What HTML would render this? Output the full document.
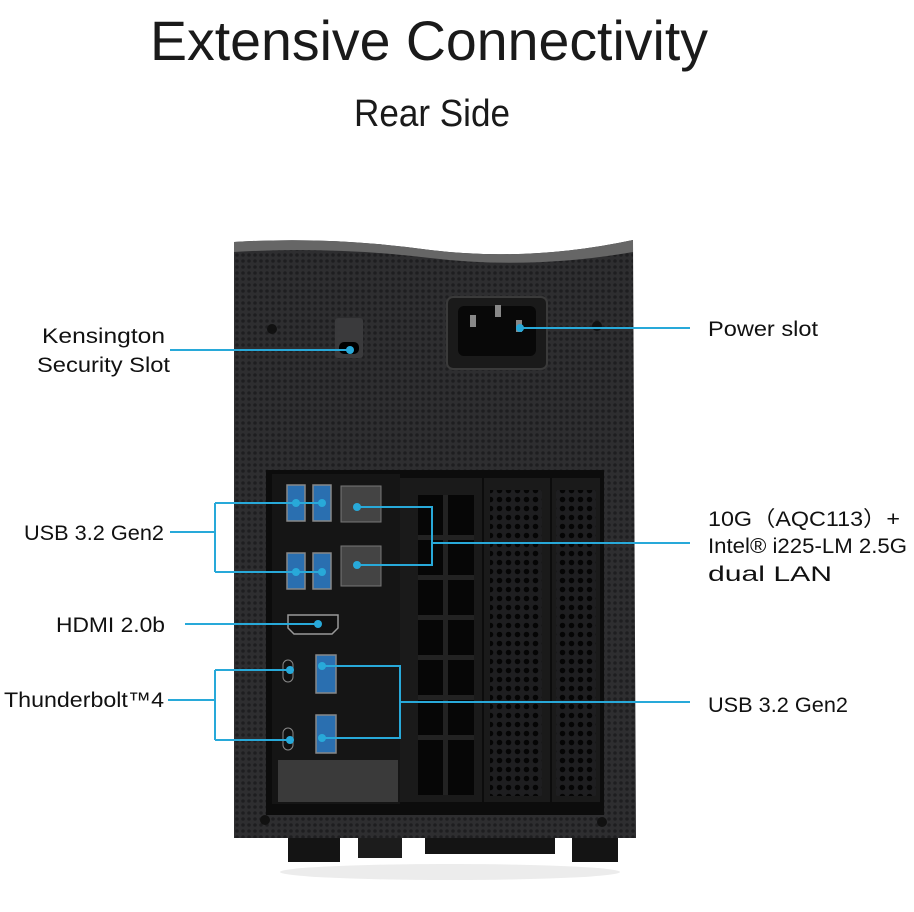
<!DOCTYPE html>
<html><head><meta charset="utf-8"><style>
html,body{margin:0;padding:0;background:#fff;}
svg{display:block;}
text{font-family:"Liberation Sans",sans-serif;}
</style></head><body>
<svg width="914" height="912" viewBox="0 0 914 912" xmlns="http://www.w3.org/2000/svg">
<defs>
<pattern id="hex" width="6" height="6" patternUnits="userSpaceOnUse">
<rect width="6" height="6" fill="#2e2e30"/>
<circle cx="3" cy="3" r="1.8" fill="#1e1e20"/>
</pattern>
<pattern id="holes" width="9" height="9" patternUnits="userSpaceOnUse">
<rect width="9" height="9" fill="#1e1e20"/>
<circle cx="4.5" cy="4.5" r="2.8" fill="#050505"/>
</pattern>
</defs>
<text x="150" y="60" font-size="56" textLength="558" lengthAdjust="spacingAndGlyphs" fill="#1a1a1a">Extensive Connectivity</text>
<text x="354" y="126" font-size="38" textLength="156" lengthAdjust="spacingAndGlyphs" fill="#1a1a1a">Rear Side</text>

<!-- feet -->
<rect x="288" y="836" width="52" height="26" fill="#141414"/>
<rect x="358" y="836" width="44" height="22" fill="#1c1c1c"/>
<rect x="425" y="836" width="130" height="18" fill="#141414"/>
<rect x="572" y="836" width="46" height="26" fill="#141414"/>
<ellipse cx="450" cy="872" rx="170" ry="8" fill="#ececec"/>
<!-- body -->
<path d="M234 242 Q330 236 430 250 Q530 262 633 240 L636 838 L234 838 Z" fill="url(#hex)"/>
<path d="M234 242 Q330 236 430 250 Q530 262 633 240 L633 252 Q530 270 430 258 Q330 246 234 252Z" fill="#666"/>
<!-- screws -->
<circle cx="272" cy="329" r="5" fill="#111"/><circle cx="597" cy="326" r="5" fill="#111"/>
<circle cx="265" cy="820" r="5" fill="#111"/><circle cx="602" cy="822" r="5" fill="#111"/>
<!-- kensington -->
<rect x="335" y="318" width="28" height="40" rx="3" fill="#3a3a3c"/>
<rect x="339" y="342" width="20" height="12" rx="5" fill="#000"/>
<!-- power -->
<rect x="447" y="297" width="100" height="72" rx="6" fill="#1a1a1a" stroke="#3a3a3a" stroke-width="2"/>
<rect x="458" y="306" width="78" height="50" rx="6" fill="#080808"/>
<rect x="470" y="315" width="6" height="12" fill="#888"/><rect x="495" y="305" width="6" height="12" fill="#888"/><rect x="516" y="320" width="6" height="12" fill="#888"/>
<!-- IO cutout -->
<rect x="266" y="470" width="338" height="345" fill="#0c0c0c"/>
<rect x="272" y="474" width="128" height="330" fill="#151515"/>
<rect x="278" y="760" width="120" height="42" fill="#3a3a3a"/>
<!-- pcie -->
<rect x="400" y="478" width="82" height="324" fill="#1a1a1a"/>
<rect x="418" y="495" width="56" height="300" fill="#060606"/>
<g fill="#222">
<rect x="443" y="495" width="5" height="300"/>
<rect x="418" y="535" width="56" height="5"/><rect x="418" y="575" width="56" height="5"/><rect x="418" y="615" width="56" height="5"/><rect x="418" y="655" width="56" height="5"/><rect x="418" y="695" width="56" height="5"/><rect x="418" y="735" width="56" height="5"/>
</g>
<rect x="484" y="478" width="66" height="324" fill="#1a1a1a"/>
<rect x="490" y="490" width="52" height="306" fill="url(#holes)"/>
<rect x="552" y="478" width="48" height="324" fill="#1a1a1a"/>
<rect x="556" y="490" width="40" height="306" fill="url(#holes)"/>
<!-- usb ports left -->
<g fill="#2a6fb0" stroke="#888" stroke-width="1.5">
<rect x="287" y="485" width="18" height="36"/><rect x="313" y="485" width="18" height="36"/>
<rect x="287" y="553" width="18" height="36"/><rect x="313" y="553" width="18" height="36"/>
<rect x="316" y="655" width="20" height="38"/><rect x="316" y="715" width="20" height="38"/>
</g>
<!-- LAN -->
<rect x="341" y="486" width="40" height="36" fill="#444" stroke="#777"/>
<rect x="341" y="546" width="40" height="40" fill="#444" stroke="#777"/>
<!-- HDMI -->
<path d="M288 615 H338 V628 L332 634 H294 L288 628Z" fill="#111" stroke="#999" stroke-width="1.5"/>
<!-- TB -->
<rect x="283" y="660" width="10" height="22" rx="5" fill="#111" stroke="#888"/>
<rect x="283" y="728" width="10" height="22" rx="5" fill="#111" stroke="#888"/>
<!-- connectors -->
<g stroke="#28a9d9" stroke-width="2" fill="none">
<path d="M170 350 H350"/>
<path d="M520 328 H690"/>
<path d="M170 532 H215 M215 503 V572 M215 503 H322 M215 572 H322"/>
<path d="M357 507 H432 V565 H357 M432 543 H690"/>
<path d="M185 624 H318"/>
<path d="M168 700 H215 M215 670 V740 M215 670 H290 M215 740 H290"/>
<path d="M322 666 H400 V738 H322 M400 702 H690"/>
</g>
<g fill="#28a9d9">
<circle cx="350" cy="350" r="4"/><circle cx="520" cy="328" r="4"/>
<circle cx="296" cy="503" r="4"/><circle cx="322" cy="503" r="4"/><circle cx="296" cy="572" r="4"/><circle cx="322" cy="572" r="4"/>
<circle cx="357" cy="507" r="4"/><circle cx="357" cy="565" r="4"/>
<circle cx="318" cy="624" r="4"/>
<circle cx="290" cy="670" r="4"/><circle cx="290" cy="740" r="4"/>
<circle cx="322" cy="666" r="4"/><circle cx="322" cy="738" r="4"/>
</g>
<!-- labels -->
<g font-size="21" fill="#111" lengthAdjust="spacingAndGlyphs">
<text x="42" y="343" textLength="123" lengthAdjust="spacingAndGlyphs">Kensington</text>
<text x="37" y="372" textLength="133" lengthAdjust="spacingAndGlyphs">Security Slot</text>
<text x="24" y="540" textLength="140" lengthAdjust="spacingAndGlyphs">USB 3.2 Gen2</text>
<text x="56" y="632" textLength="109" lengthAdjust="spacingAndGlyphs">HDMI 2.0b</text>
<text x="4" y="707" textLength="160" lengthAdjust="spacingAndGlyphs">Thunderbolt™4</text>
<text x="708" y="336" textLength="110" lengthAdjust="spacingAndGlyphs">Power slot</text>
<text x="708" y="526" textLength="192" lengthAdjust="spacingAndGlyphs">10G（AQC113）+</text>
<text x="708" y="553" textLength="199" lengthAdjust="spacingAndGlyphs">Intel® i225-LM 2.5G</text>
<text x="708" y="581" textLength="124" lengthAdjust="spacingAndGlyphs">dual LAN</text>
<text x="708" y="712" textLength="140" lengthAdjust="spacingAndGlyphs">USB 3.2 Gen2</text>
</g>
</svg>
</body></html>
